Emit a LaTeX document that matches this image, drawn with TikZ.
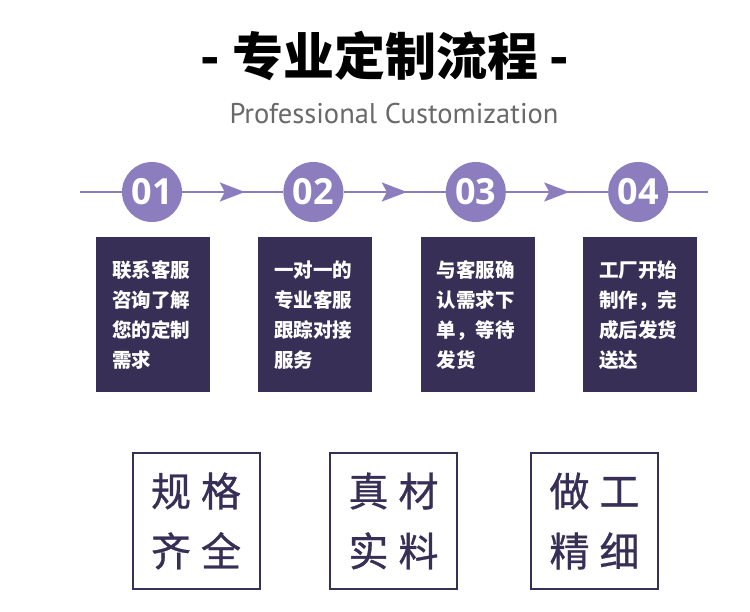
\documentclass[tikz,border=0pt]{standalone}
\usepackage{fontspec}
\setmainfont{Noto Sans CJK SC}
\newfontfamily\featfont{Noto Sans CJK SC}[FakeBold=0.8]
\newfontfamily\latinfont{PT Sans}
\newfontfamily\digitfont{Open Sans}
\usetikzlibrary{positioning,arrows.meta,decorations.markings}
\definecolor{stepviolet}{RGB}{140,126,190}
\definecolor{boxnavy}{RGB}{55,47,86}
\definecolor{subgray}{RGB}{105,105,105}
\begin{document}
\begin{tikzpicture}[x=1pt,y=-1pt,
		numcircle/.style={circle,fill=stepviolet,minimum size=60pt,inner sep=0pt,text=white,
			font=\digitfont\bfseries\fontsize{36}{36}\selectfont},
		stepbox/.style={fill=boxnavy,text=white,minimum width=114pt,minimum height=155pt,
			text width=82pt,inner xsep=16pt,align=left,font=\bfseries\fontsize{19.5}{30}\selectfont},
		featbox/.style={draw=boxnavy,line width=2pt,text=boxnavy,minimum width=127pt,
			minimum height=136pt,align=center,font=\featfont\fontsize{40}{60}\selectfont},
		flowline/.style={stepviolet,line width=2pt},
		midarrow/.style={flowline,postaction={decorate},
			decoration={markings,mark=at position 0.62 with {\arrow{Stealth[length=25pt,width=19pt,inset=5pt]}}}}
		]
	\fill[white] (0,0) rectangle (750,612);
	\useasboundingbox (0,0) rectangle (750,612);
	% heading
	\node [font=\bfseries\fontsize{51}{51}\selectfont] (title) at (385,56) {- 专业定制流程 -};
	\node [font=\latinfont\fontsize{28.5}{28.5}\selectfont,text=subgray] (subtitle) at (394,114) {Professional Customization};
	% steps
	\node [numcircle] (c1) at (152,192) {01};
	\node [numcircle,right=101pt of c1] (c2) {02};
	\node [numcircle,right=102pt of c2] (c3) {03};
	\node [numcircle,right=102pt of c3] (c4) {04};
	\coordinate (lstart) at (80,192);
	\coordinate (lend) at (708,192);
	\draw [flowline] (lstart) -- (c1);
	\draw [midarrow] (c1) -- (c2);
	\draw [midarrow] (c2) -- (c3);
	\draw [midarrow] (c3) -- (c4);
	\draw [flowline] (c4) -- (lend);
	\node [stepbox,below=15pt of c1,xshift=1pt] (b1) {联系客服\\咨询了解\\您的定制\\需求};
	\node [stepbox,below=15pt of c2,xshift=2pt] (b2) {一对一的\\专业客服\\跟踪对接\\服务};
	\node [stepbox,below=15pt of c3,xshift=2pt] (b3) {与客服确\\认需求下\\单，等待\\发货};
	\node [stepbox,below=15pt of c4,xshift=2pt] (b4) {工厂开始\\制作，完\\成后发货\\送达};
	% features
	\node [featbox] (f1) at (196,521) {规\hspace{10pt}格\\齐\hspace{10pt}全};
	\node [featbox] (f2) at (393.5,521) {真\hspace{10pt}材\\实\hspace{10pt}料};
	\node [featbox] (f3) at (594.5,521) {做\hspace{10pt}工\\精\hspace{10pt}细};
\end{tikzpicture}
\end{document}
